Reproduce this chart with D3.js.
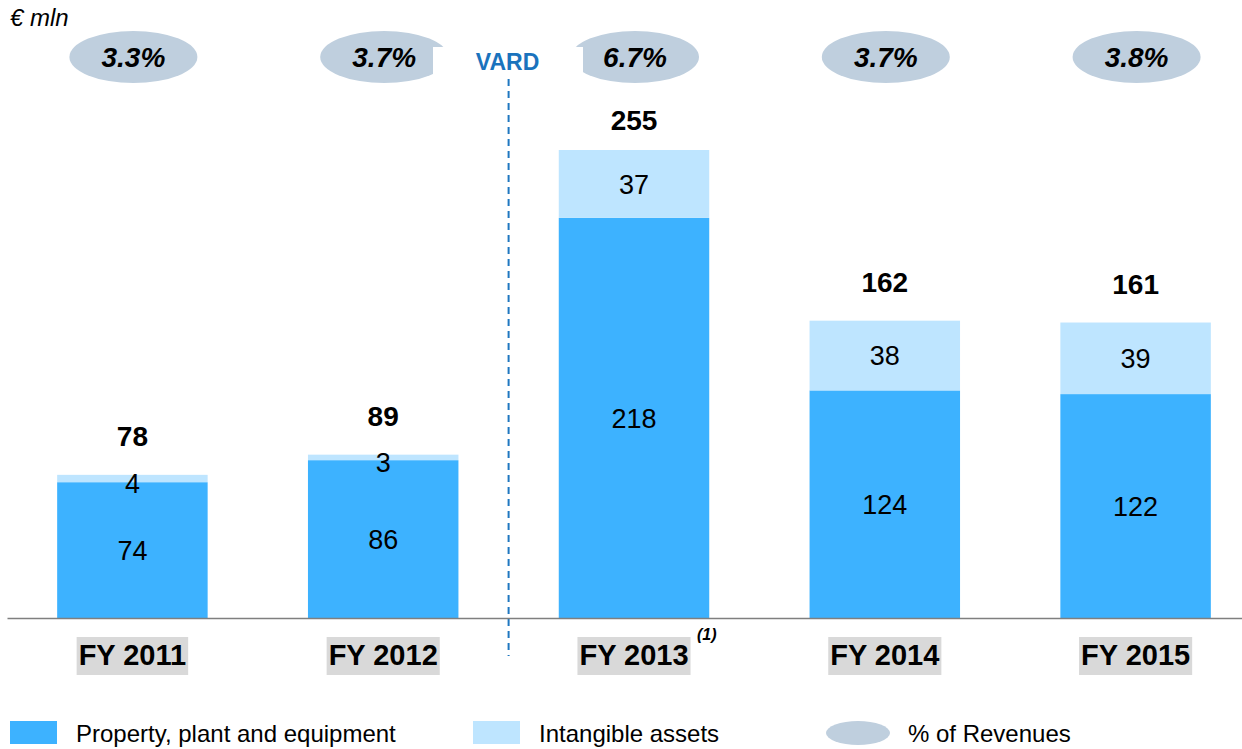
<!DOCTYPE html>
<html>
<head>
<meta charset="utf-8">
<script src="https://cdn.jsdelivr.net/npm/d3@7/dist/d3.min.js"></script>
<style>
  html, body { margin: 0; padding: 0; background: #fff; }
  svg { display: block; font-family: "Liberation Sans", Arial, sans-serif; }
</style>
</head>
<body>
<svg id="chart" width="1242" height="749"></svg>
<script>
// Capex breakdown, € mln
const categories = ["FY 2011", "FY 2012", "FY 2013", "FY 2014", "FY 2015"];
const ppe        = [74, 86, 218, 124, 122];
const intangible = [4, 3, 37, 38, 39];
const totals     = [78, 89, 255, 162, 161];
const pctRevenue = ["3.3%", "3.7%", "6.7%", "3.7%", "3.8%"];
const seriesNames = ["Property, plant and equipment", "Intangible assets", "% of Revenues"];

const colPPE = "#3DB2FF";
const colInt = "#BEE5FF";
const colPct = "#BFCFDE";

const svg = d3.select("#chart");

const x = d3.scaleBand().domain(categories).range([7, 1261]).paddingInner(0.4).paddingOuter(0.2);
const y = d3.scaleLinear().domain([0, 255]).range([618, 150]);

const rows = categories.map((c, i) => ({ cat: c, ppe: ppe[i], intangible: intangible[i], total: totals[i], pct: pctRevenue[i] }));
const stacked = d3.stack().keys(["ppe", "intangible"])(rows);
const colors = { ppe: colPPE, intangible: colInt };

// stacked bars
const layers = svg.append("g").selectAll("g").data(stacked).join("g").attr("fill", d => colors[d.key]);
layers.selectAll("rect").data(d => d.map(p => ({ p, key: d.key })))
  .join("rect")
  .attr("x", d => x(d.p.data.cat))
  .attr("width", x.bandwidth())
  .attr("y", d => y(d.p[1]))
  .attr("height", d => y(d.p[0]) - y(d.p[1]));

// segment values (thin segments get their label nudged down a little)
layers.selectAll("text").data(d => d.map(p => ({ p, key: d.key })))
  .join("text")
  .attr("x", d => x(d.p.data.cat) + x.bandwidth() / 2)
  .attr("y", d => {
    const mid = (y(d.p[0]) + y(d.p[1])) / 2;
    const h = y(d.p[0]) - y(d.p[1]);
    return h < 12 ? mid + 5 : mid;
  })
  .attr("dy", "0.36em")
  .attr("text-anchor", "middle")
  .attr("fill", "#000")
  .attr("font-size", 27)
  .text(d => d.p.data[d.key]);

// totals, kept clear of the bubble row
svg.append("g").selectAll("text").data(rows).join("text")
  .attr("x", d => x(d.cat) + x.bandwidth() / 2)
  .attr("y", d => Math.max(y(d.total) - 29, 130))
  .attr("text-anchor", "middle")
  .attr("font-size", 28)
  .attr("font-weight", "bold")
  .text(d => d.total);

// % of revenues bubbles
const pctG = svg.append("g");
pctG.selectAll("ellipse").data(rows).join("ellipse")
  .attr("cx", d => x(d.cat) + x.bandwidth() / 2 + 1)
  .attr("cy", 57)
  .attr("rx", 64)
  .attr("ry", 26)
  .attr("fill", colPct);

// VARD separator
const sepX = (x("FY 2012") + x.bandwidth() + x("FY 2013")) / 2;
svg.append("rect").attr("x", 433).attr("y", 47).attr("width", 150).attr("height", 45).attr("fill", "#fff");
svg.append("line")
  .attr("x1", sepX).attr("x2", sepX).attr("y1", 79).attr("y2", 656)
  .attr("stroke", "#1F77C0").attr("stroke-width", 2).attr("stroke-dasharray", "7,5");
svg.append("text")
  .attr("x", sepX - 1).attr("y", 70)
  .attr("text-anchor", "middle")
  .attr("font-size", 23).attr("font-weight", "bold")
  .attr("fill", "#1A73BD")
  .text("VARD");

pctG.selectAll("text").data(rows).join("text")
  .attr("x", d => x(d.cat) + x.bandwidth() / 2 + 1)
  .attr("y", 57)
  .attr("dy", "0.36em")
  .attr("text-anchor", "middle")
  .attr("font-size", 28)
  .attr("font-weight", "bold")
  .attr("font-style", "italic")
  .text(d => d.pct);

// category axis
const axisG = svg.append("g").attr("transform", "translate(0,618)")
  .call(d3.axisBottom(x).tickSize(0).tickPadding(0));
axisG.select(".domain").attr("stroke", "#7F7F7F").attr("stroke-width", 1.5);
axisG.selectAll(".tick text")
  .attr("y", 37).attr("dy", "0.36em")
  .attr("font-size", 29).attr("font-weight", "bold")
  .attr("fill", "#000")
  .attr("font-family", "Liberation Sans, Arial, sans-serif");
axisG.selectAll(".tick").each(function () {
  const t = d3.select(this).select("text");
  const b = t.node().getBBox();
  d3.select(this).insert("rect", "text")
    .attr("x", b.x - 2).attr("y", 19).attr("width", b.width + 4).attr("height", 38)
    .attr("fill", "#D9D9D9");
});
// footnote marker
svg.append("text")
  .attr("x", x("FY 2013") + x.bandwidth() / 2 + 63).attr("y", 640)
  .attr("font-size", 16).attr("font-weight", "bold").attr("font-style", "italic")
  .text("(1)");

// unit label
svg.append("text").attr("x", 10).attr("y", 26)
  .attr("font-size", 24).attr("font-style", "italic").text("€ mln");

// legend
const legend = svg.append("g").attr("transform", "translate(0,733)");
const legItems = [
  { name: seriesNames[0], x: 10, shape: "rect", color: colPPE },
  { name: seriesNames[1], x: 473, shape: "rect", color: colInt },
  { name: seriesNames[2], x: 826, shape: "ellipse", color: colPct }
];
legItems.forEach(it => {
  if (it.shape === "rect") {
    legend.append("rect").attr("x", it.x).attr("y", -12).attr("width", 47).attr("height", 23).attr("fill", it.color);
  } else {
    legend.append("ellipse").attr("cx", it.x + 32).attr("cy", 0).attr("rx", 32).attr("ry", 12).attr("fill", it.color);
  }
  legend.append("text")
    .attr("x", it.shape === "rect" ? it.x + 66 : it.x + 82)
    .attr("y", 0).attr("dy", "0.36em")
    .attr("font-size", 24)
    .text(it.name);
});
</script>
</body>
</html>
